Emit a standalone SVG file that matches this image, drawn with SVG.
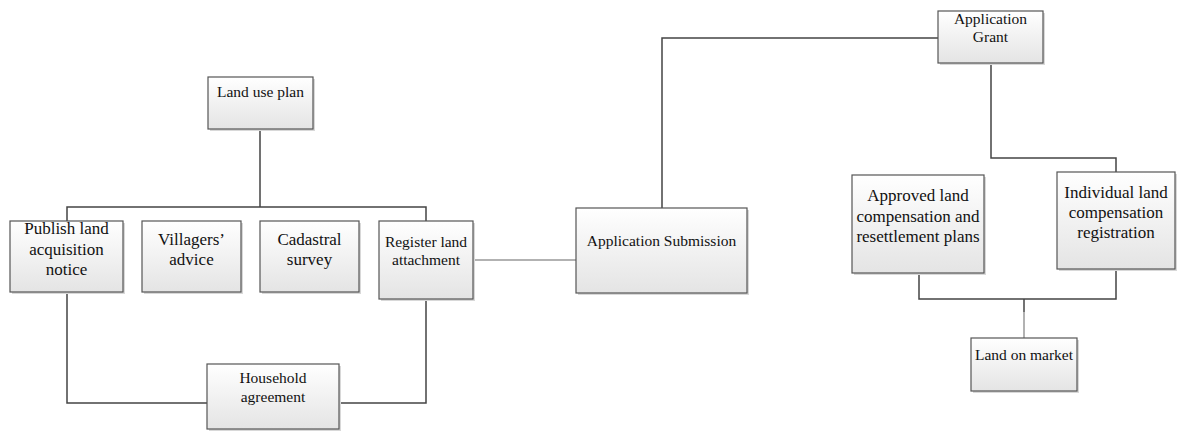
<svg xmlns="http://www.w3.org/2000/svg" width="1179" height="432" viewBox="0 0 1179 432">
<defs>
<linearGradient id="g" x1="0" y1="0" x2="0" y2="1">
<stop offset="0" stop-color="#ffffff"/>
<stop offset="1" stop-color="#e4e4e4"/>
</linearGradient>
<style>
.box{fill:url(#g);stroke:#555;stroke-width:1.2}
.sh{fill:#d8d8d8}
.t{font-family:"Liberation Serif","Times New Roman",serif;fill:#111;text-anchor:middle}
.s17{font-size:17px}
.s15{font-size:15.5px}
.ln{fill:none;stroke:#444;stroke-width:1.5}
.lt{fill:none;stroke:#999;stroke-width:1.5}
</style>
</defs>
<rect width="1179" height="432" fill="#ffffff"/>
<g id="connectors">
<path class="ln" d="M260 129 V207 M67 221 V207 H426 V221"/>
<path class="ln" d="M67 292 V403 H207 M339 403 H426 V299"/>
<path class="lt" d="M473 260 H579"/>
<path class="ln" d="M662 208 V38 H938"/>
<path class="ln" d="M991 63 V158 H1116 V172"/>
<path class="ln" d="M919 273 V299 H1116 V269"/>
<path class="ln" d="M1024 299 V312"/>
<path class="lt" d="M1024 312 V338"/>
</g>
<g id="land-use-plan">
<rect class="sh" x="210" y="79" width="105" height="52"/>
<rect class="box" x="208" y="77" width="105" height="52"/>
<text class="t s15" x="260.5" y="97">Land use plan</text>
</g>
<g id="publish-notice">
<rect class="sh" x="12" y="223" width="113" height="71"/>
<rect class="box" x="10" y="221" width="113" height="71"/>
<text class="t s17" x="66.5" y="234">Publish land</text>
<text class="t s17" x="66.5" y="255">acquisition</text>
<text class="t s17" x="66.5" y="275">notice</text>
</g>
<g id="villagers-advice">
<rect class="sh" x="144" y="223" width="99" height="71"/>
<rect class="box" x="142" y="221" width="99" height="71"/>
<text class="t s17" x="191.5" y="245">Villagers’</text>
<text class="t s17" x="191.5" y="265">advice</text>
</g>
<g id="cadastral-survey">
<rect class="sh" x="262" y="223" width="99" height="71"/>
<rect class="box" x="260" y="221" width="99" height="71"/>
<text class="t s17" x="309.5" y="245">Cadastral</text>
<text class="t s17" x="309.5" y="265">survey</text>
</g>
<g id="register-attachment">
<rect class="sh" x="381" y="223" width="94" height="78"/>
<rect class="box" x="379" y="221" width="94" height="78"/>
<text class="t s15" x="426" y="247">Register land</text>
<text class="t s15" x="426" y="265">attachment</text>
</g>
<g id="household-agreement">
<rect class="sh" x="209" y="366" width="132" height="65"/>
<rect class="box" x="207" y="364" width="132" height="65"/>
<text class="t s15" x="273" y="383">Household</text>
<text class="t s15" x="273" y="402">agreement</text>
</g>
<g id="application-submission">
<rect class="sh" x="578" y="210" width="171" height="85"/>
<rect class="box" x="576" y="208" width="171" height="85"/>
<text class="t s15" x="661.5" y="246">Application Submission</text>
</g>
<g id="application-grant">
<rect class="sh" x="940" y="13" width="105" height="52"/>
<rect class="box" x="938" y="11" width="105" height="52"/>
<text class="t s15" x="990.5" y="24">Application</text>
<text class="t s15" x="990.5" y="42">Grant</text>
</g>
<g id="approved-plans">
<rect class="sh" x="854" y="177" width="132" height="98"/>
<rect class="box" x="852" y="175" width="132" height="98"/>
<text class="t s17" x="918" y="201">Approved land</text>
<text class="t s17" x="918" y="222">compensation and</text>
<text class="t s17" x="918" y="242">resettlement plans</text>
</g>
<g id="individual-registration">
<rect class="sh" x="1059" y="174" width="118" height="97"/>
<rect class="box" x="1057" y="172" width="118" height="97"/>
<text class="t s17" x="1116" y="198">Individual land</text>
<text class="t s17" x="1116" y="218">compensation</text>
<text class="t s17" x="1116" y="238">registration</text>
</g>
<g id="land-on-market">
<rect class="sh" x="973" y="340" width="106" height="53"/>
<rect class="box" x="971" y="338" width="106" height="53"/>
<text class="t s15" x="1024" y="360">Land on market</text>
</g>
</svg>
